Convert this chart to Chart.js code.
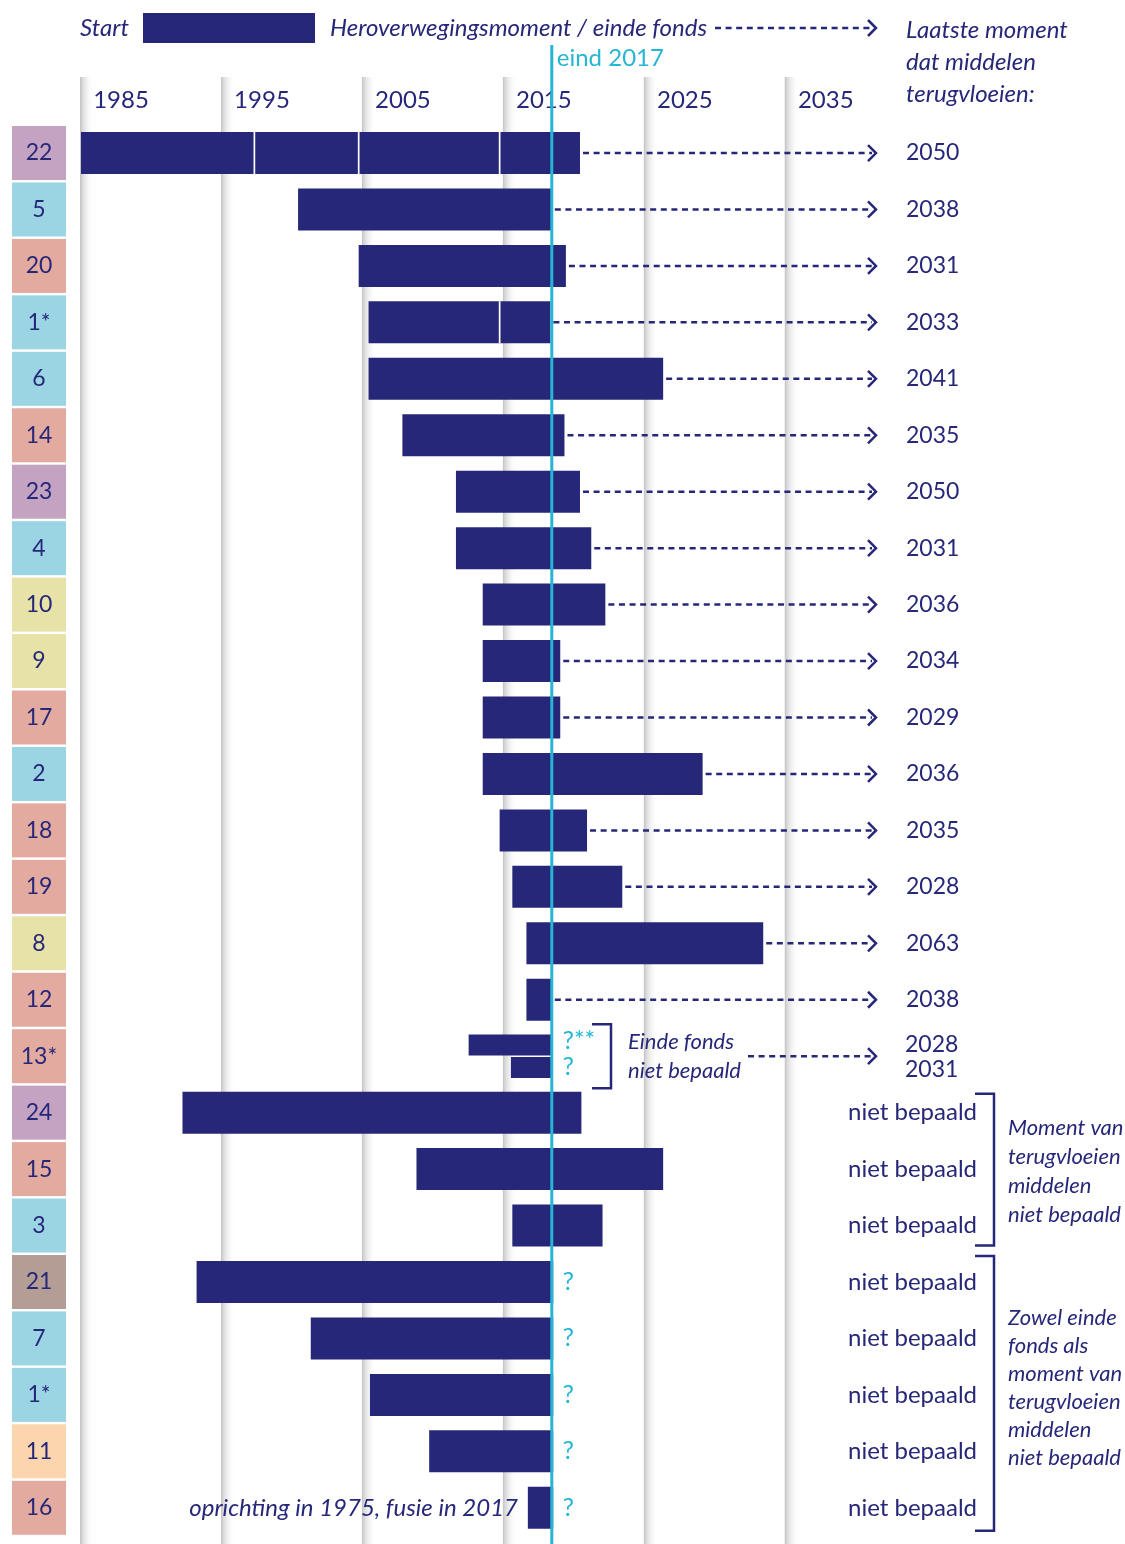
<!DOCTYPE html>
<html>
<head>
<meta charset="utf-8">
<script src="https://cdn.jsdelivr.net/npm/chart.js@4.4.0/dist/chart.umd.min.js"></script>
<style>
  html, body { margin: 0; padding: 0; background: #fff; }
  #wrap { position: relative; width: 1125px; height: 1544px; }
</style>
</head>
<body>
<div id="wrap"><canvas id="fondsChart" width="1125" height="1544"></canvas></div>
<script>
// Data
const rows = ["22", "5", "20", "1*", "6", "14", "23", "4", "10", "9", "17", "2", "18",
  "19", "8", "12", "13*", "24", "15", "3", "21", "7", "1*", "11", "16"];
const rowColors = ["#c3a2c2", "#9bd5e4", "#e3aaa0", "#9bd5e4", "#9bd5e4", "#e3aaa0", "#c3a2c2",
  "#9bd5e4", "#e7e2a7", "#e7e2a7", "#e3aaa0", "#9bd5e4", "#e3aaa0", "#e3aaa0", "#e7e2a7",
  "#e3aaa0", "#e3aaa0", "#c3a2c2", "#e3aaa0", "#9bd5e4", "#b39d95", "#9bd5e4", "#9bd5e4",
  "#fbd5ad", "#e3aaa0"];
const starts = [1985.0, 2000.4, 2004.7, 2005.4, 2005.4, 2007.8, 2011.6, 2011.6, 2013.5, 2013.5,
  2013.5, 2013.5, 2014.7, 2015.6, 2016.6, 2016.6, null, 1992.2, 2008.8, 2015.6, 1993.2, 2001.3,
  2005.5, 2009.7, 2016.7];
const ends = [2020.4, 2018.4, 2019.4, 2018.3, 2026.3, 2019.3, 2020.4, 2021.2, 2022.2, 2019.0,
  2019.0, 2029.1, 2020.9, 2023.4, 2033.4, 2018.4, null, 2020.5, 2026.3, 2022.0, 2018.5, 2018.5,
  2018.5, 2018.5, 2018.5];
// row 13*: two funds, end not known
const split13Starts = [2012.5, 2015.5];
const split13End = 2018.4;
// white dividers = earlier reconsideration moments
const reconsider = { 0: [1997.3, 2004.7, 2014.7], 3: [2014.7] };
const lastMoment = ["2050", "2038", "2031", "2033", "2041", "2035", "2050", "2031", "2036",
  "2034", "2029", "2036", "2035", "2028", "2063", "2038", ["2028", "2031"]];
const tickYears = [1985, 1995, 2005, 2015, 2025, 2035];
const NOW = 2018.4; // eind 2017

const NAVY = "#262778";
const CYAN = "#25b6d6";
const FONT = "Lato, 'Noto Sans', sans-serif";

function dashedArrow(ctx, x0, x1, y) {
  ctx.save();
  ctx.strokeStyle = NAVY;
  ctx.lineWidth = 2.5;
  ctx.setLineDash([6, 4.6]);
  ctx.beginPath();
  ctx.moveTo(x0, y);
  ctx.lineTo(x1 - 4, y);
  ctx.stroke();
  ctx.setLineDash([]);
  ctx.beginPath();
  ctx.moveTo(x1 - 8, y - 8);
  ctx.lineTo(x1, y);
  ctx.lineTo(x1 - 8, y + 8);
  ctx.stroke();
  ctx.restore();
}

function bracket(ctx, x, top, bottom, tick) {
  ctx.save();
  ctx.strokeStyle = NAVY;
  ctx.lineWidth = 2.5;
  ctx.beginPath();
  ctx.moveTo(x - tick, top);
  ctx.lineTo(x, top);
  ctx.lineTo(x, bottom);
  ctx.lineTo(x - tick, bottom);
  ctx.stroke();
  ctx.restore();
}

function text(ctx, str, x, y, opts) {
  opts = opts || {};
  ctx.save();
  ctx.font = (opts.italic ? "italic " : "") + (opts.size || 24) + "px " + FONT;
  ctx.fillStyle = opts.color || NAVY;
  ctx.textAlign = opts.align || "left";
  ctx.textBaseline = "middle";
  ctx.fillText(str, x, y);
  ctx.restore();
}

// soft grey gridlines
const gridShade = {
  id: "gridShade",
  beforeDatasetsDraw(chart) {
    const ctx = chart.ctx;
    const x = chart.scales.x;
    x.ticks.forEach((t) => {
      const px = x.getPixelForValue(t.value);
      const g = ctx.createLinearGradient(px - 1, 0, px + 13, 0);
      g.addColorStop(0, "rgba(185,185,185,0.9)");
      g.addColorStop(0.15, "rgba(205,205,205,0.8)");
      g.addColorStop(1, "rgba(255,255,255,0)");
      ctx.save();
      ctx.fillStyle = g;
      ctx.fillRect(px - 1, 77, 14, 1544 - 77);
      ctx.restore();
    });
  },
};

const overlay = {
  id: "overlay",
  afterDatasetsDraw(chart) {
    const ctx = chart.ctx;
    const x = chart.scales.x;
    const y = chart.scales.y;
    const right = chart.chartArea.right;

    // eind 2017 line
    const nx = x.getPixelForValue(NOW);
    ctx.save();
    ctx.strokeStyle = CYAN;
    ctx.lineWidth = 3;
    ctx.beginPath();
    ctx.moveTo(nx, 45);
    ctx.lineTo(nx, 1544);
    ctx.stroke();
    ctx.restore();
    text(ctx, "eind 2017", nx + 5, 58, { color: CYAN });

    // row boxes
    rows.forEach((r, i) => {
      const cy = y.getPixelForValue(i);
      ctx.fillStyle = rowColors[i];
      ctx.fillRect(12, cy - 27, 54, 54);
      text(ctx, r, 39, cy, { size: 23, align: "center" });
    });

    // arrows and last moment
    lastMoment.forEach((lbl, i) => {
      const cy = y.getPixelForValue(i);
      if (Array.isArray(lbl)) {
        dashedArrow(ctx, 748, right, cy);
        text(ctx, lbl[0], 905, cy - 12, { size: 23 });
        text(ctx, lbl[1], 905, cy + 13, { size: 23 });
      } else {
        dashedArrow(ctx, x.getPixelForValue(ends[i]) + 3, right, cy);
        text(ctx, lbl, 906, cy, { size: 23 });
      }
    });

    // 13* notes
    const c13 = y.getPixelForValue(16);
    const qx = nx + 11;
    text(ctx, "?**", qx, c13 - 15, { color: CYAN, size: 25 });
    text(ctx, "?", qx, c13 + 11, { color: CYAN, size: 25 });
    bracket(ctx, 611, c13 - 32, c13 + 32, 19);
    text(ctx, "Einde fonds", 628, c13 - 14, { italic: true, size: 22 });
    text(ctx, "niet bepaald", 628, c13 + 15, { italic: true, size: 22 });

    // niet bepaald rows
    for (let i = 17; i < rows.length; i++) {
      const cy = y.getPixelForValue(i);
      text(ctx, "niet bepaald", 977, cy, { align: "right" });
      if (i >= 20) text(ctx, "?", qx, cy, { color: CYAN, size: 25 });
    }
    bracket(ctx, 994, y.getPixelForValue(17) - 19, y.getPixelForValue(19) + 20, 19);
    bracket(ctx, 994, y.getPixelForValue(20) - 26, y.getPixelForValue(24) + 23, 19);
    ["Moment van", "terugvloeien", "middelen", "niet bepaald"].forEach((s, k) => {
      text(ctx, s, 1008, 1128 + k * 29, { italic: true, size: 22 });
    });
    ["Zowel einde", "fonds als", "moment van", "terugvloeien", "middelen", "niet bepaald"]
      .forEach((s, k) => {
        text(ctx, s, 1008, 1318 + k * 28, { italic: true, size: 22 });
      });
    text(ctx, "oprichting in 1975, fusie in 2017", 518, y.getPixelForValue(24), {
      italic: true, align: "right",
    });

    // header legend
    text(ctx, "Start", 80, 28, { italic: true });
    ctx.fillStyle = NAVY;
    ctx.fillRect(143, 13, 172, 30);
    text(ctx, "Heroverwegingsmoment / einde fonds", 330, 28, { italic: true });
    dashedArrow(ctx, 715, right, 28);
    text(ctx, "Laatste moment", 906, 30, { italic: true });
    text(ctx, "dat middelen", 906, 62, { italic: true });
    text(ctx, "terugvloeien:", 906, 94, { italic: true });
  },
};

const datasets = [
  {
    label: "fonds",
    data: rows.map((r, i) => (starts[i] == null ? null : [starts[i], ends[i]])),
    backgroundColor: NAVY,
    grouped: false,
    barPercentage: 0.744,
    categoryPercentage: 1,
    order: 5,
  },
];
split13Starts.forEach((s, k) => {
  datasets.push({
    label: "13-" + k,
    data: rows.map((r, i) => (i === 16 ? [s, split13End] : null)),
    backgroundColor: NAVY,
    stack: "s" + k,
    grouped: true,
    barPercentage: 0.93,
    categoryPercentage: 0.8,
    order: 5,
  });
});
for (let j = 0; j < 3; j++) {
  datasets.push({
    label: "herov-" + j,
    data: rows.map((r, i) => {
      const b = reconsider[i] && reconsider[i][j];
      return b ? [b - 0.06, b + 0.06] : null;
    }),
    backgroundColor: "#ffffff",
    grouped: false,
    barPercentage: 0.744,
    categoryPercentage: 1,
    order: 0,
  });
}

new Chart(document.getElementById("fondsChart").getContext("2d"), {
  type: "bar",
  data: { labels: rows, datasets: datasets },
  options: {
    indexAxis: "y",
    responsive: false,
    animation: false,
    devicePixelRatio: 1,
    layout: { padding: { left: 81, right: 249, top: 84, bottom: 8 } },
    plugins: { legend: { display: false }, tooltip: { enabled: false } },
    scales: {
      x: {
        type: "linear",
        position: "top",
        min: 1985,
        max: 2041.4,
        afterBuildTicks: (s) => {
          s.ticks = tickYears.map((v) => ({ value: v }));
        },
        grid: { display: false },
        border: { display: false },
        ticks: {
          labelOffset: 40,
          padding: 2,
          color: NAVY,
          font: { family: FONT, size: 24 },
          callback: (v) => String(v),
        },
      },
      y: {
        display: false,
        stacked: false,
        grid: { display: false },
      },
    },
  },
  plugins: [gridShade, overlay],
});
</script>
</body>
</html>
